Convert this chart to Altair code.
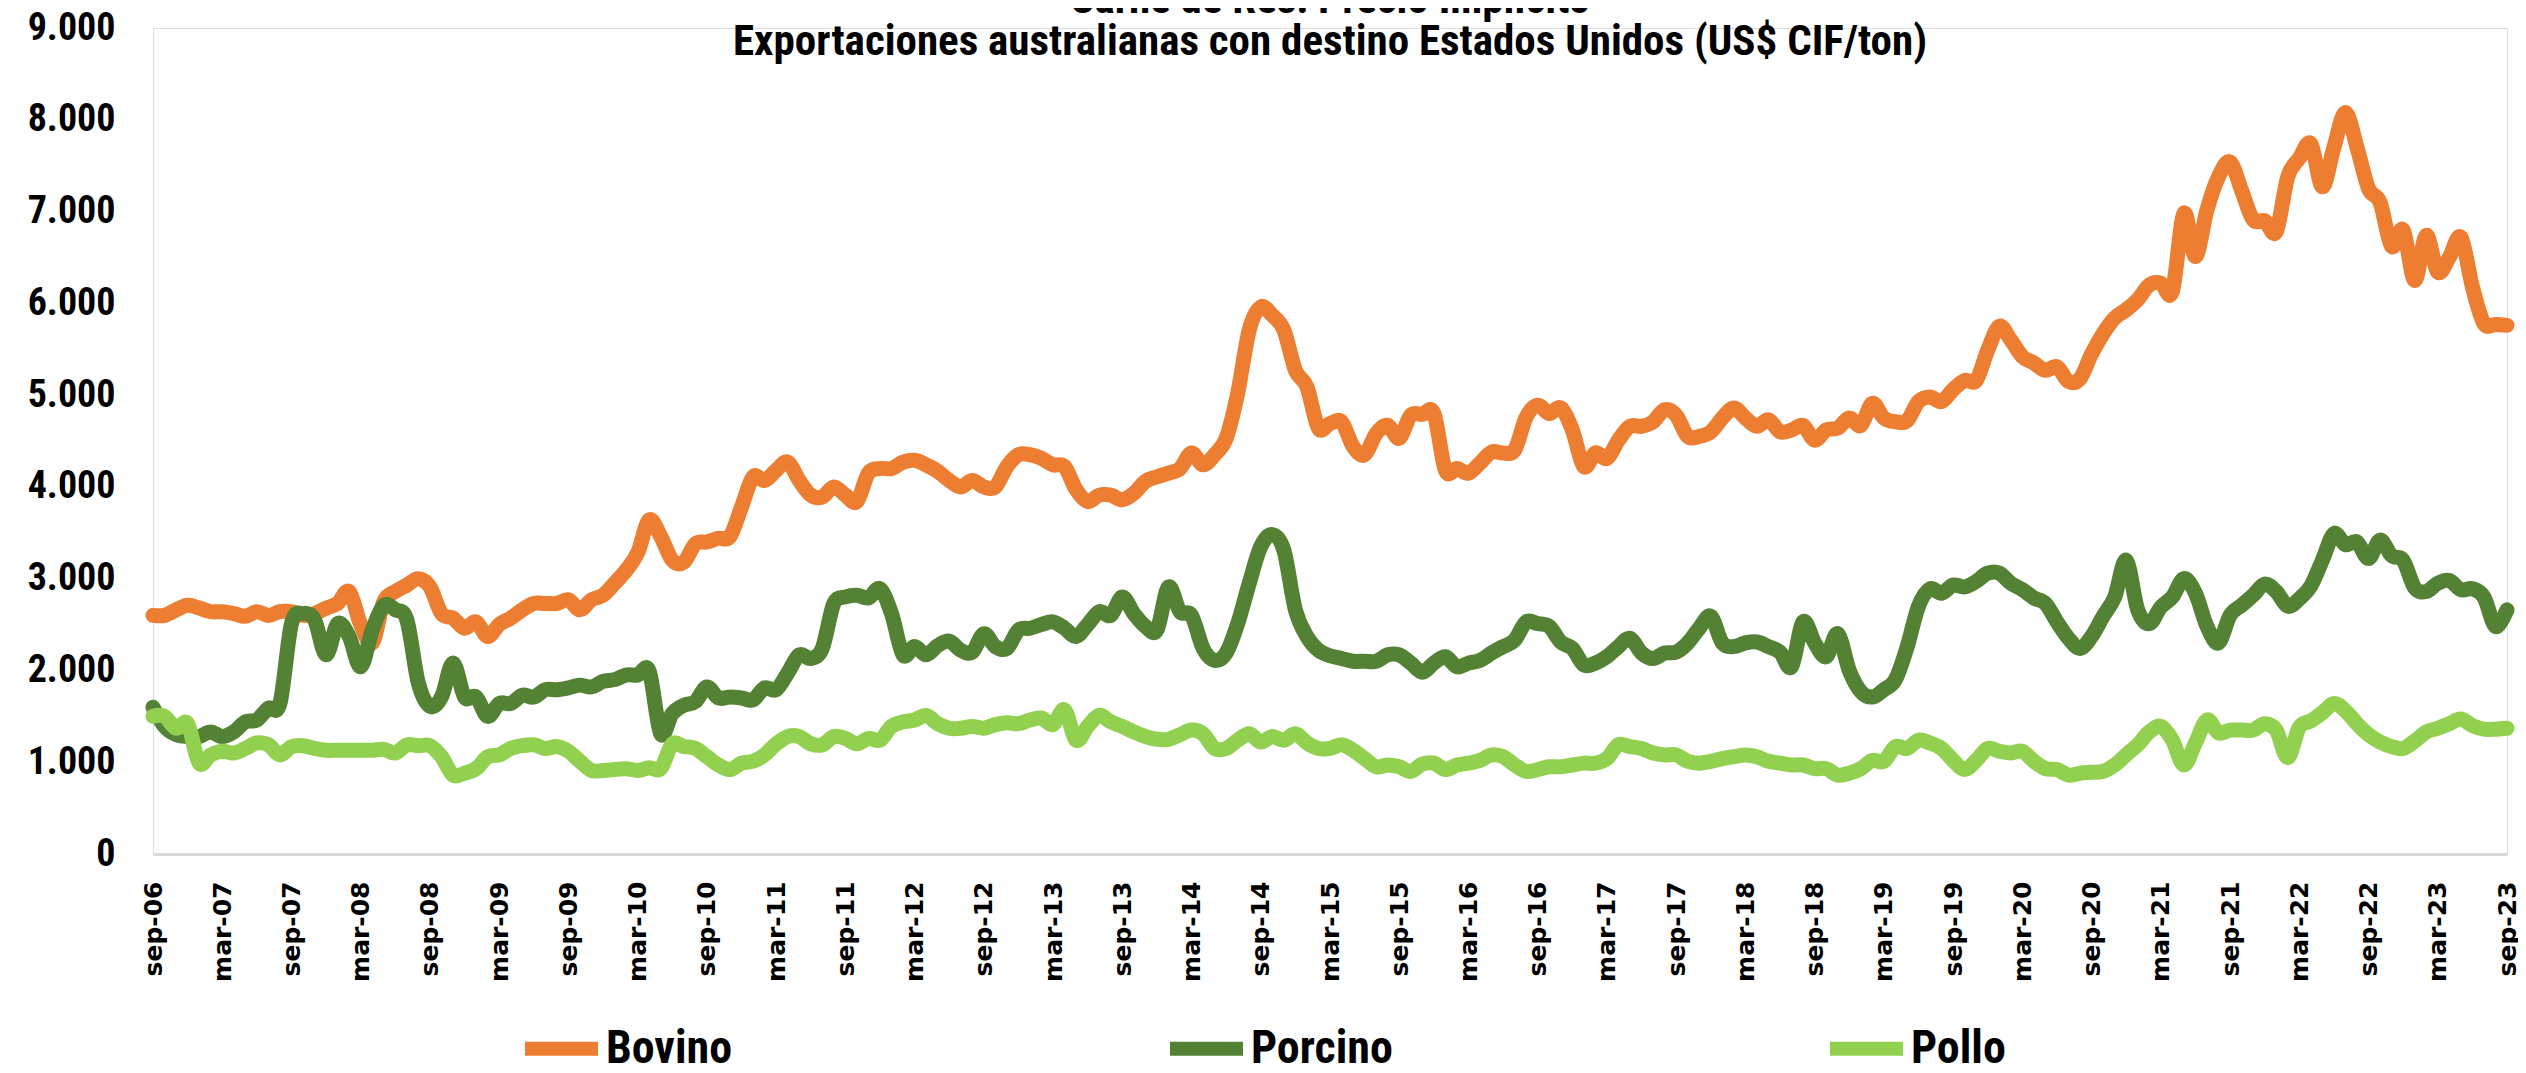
import altair as alt
import pandas as pd

# ---- categories: monthly labels sep-06 .. sep-23 ----
MESES_ABR = ["ene", "feb", "mar", "abr", "may", "jun", "jul", "ago", "sep", "oct", "nov", "dic"]
meses = []
_y, _m = 2006, 8
for _k in range(205):
    meses.append(f"{MESES_ABR[_m]}-{_y % 100:02d}")
    _m += 1
    if _m == 12:
        _m = 0
        _y += 1

etiquetas_x = meses[::6]
ticks_y = [0, 1000, 2000, 3000, 4000, 5000, 6000, 7000, 8000, 9000]

series = ["Bovino", "Porcino", "Pollo"]
colores = ["#ED7D31", "#548235", "#92D050"]

# ---- values (US$ CIF/ton) ----
bovino = [
    2600, 2600, 2660, 2710, 2680, 2640, 2640, 2620, 2590, 2640,
    2600, 2640, 2640, 2600, 2620, 2680, 2730, 2860, 2500, 2300,
    2750, 2860, 2930, 3000, 2910, 2620, 2570, 2460, 2530, 2370,
    2500, 2570, 2660, 2730, 2730, 2730, 2770, 2660, 2770, 2820,
    2950, 3090, 3280, 3640, 3460, 3200, 3180, 3380, 3400, 3440,
    3460, 3780, 4110, 4070, 4180, 4270, 4070, 3910, 3890, 4000,
    3910, 3840, 4150, 4200, 4200, 4270, 4290, 4240, 4170, 4070,
    4000, 4070, 4000, 4000, 4220, 4350, 4350, 4310, 4240, 4220,
    3970, 3840, 3910, 3910, 3860, 3930, 4060, 4110, 4150, 4200,
    4370, 4240, 4350, 4530, 5020, 5710, 5960, 5870, 5710, 5270,
    5090, 4640, 4690, 4710, 4440, 4350, 4580, 4670, 4530, 4780,
    4790, 4800, 4180, 4200, 4150, 4260, 4380, 4370, 4400, 4760,
    4890, 4800, 4860, 4620, 4220, 4370, 4310, 4510, 4660, 4660,
    4710, 4840, 4780, 4550, 4550, 4600, 4750, 4860, 4750, 4660,
    4730, 4600, 4620, 4670, 4510, 4620, 4640, 4750, 4670, 4910,
    4750, 4710, 4720, 4930, 4980, 4930, 5060, 5160, 5160, 5490,
    5750, 5600, 5420, 5350, 5270, 5310, 5150, 5180, 5450, 5670,
    5840, 5930, 6040, 6200, 6220, 6130, 6980, 6510, 7020, 7380,
    7540, 7230, 6910, 6900, 6780, 7380, 7580, 7740, 7270, 7700,
    8080, 7700, 7250, 7100, 6620, 6800, 6250, 6740, 6340, 6500,
    6720, 6180, 5780, 5770, 5760,
]

porcino = [
    1600, 1390, 1300, 1280, 1280, 1330, 1280, 1330, 1440, 1460,
    1590, 1640, 2510, 2620, 2550, 2170, 2510, 2370, 2040, 2440,
    2710, 2660, 2550, 1860, 1610, 1710, 2080, 1710, 1710, 1500,
    1640, 1640, 1730, 1710, 1790, 1790, 1810, 1840, 1820, 1880,
    1900, 1950, 1950, 1990, 1310, 1530, 1620, 1660, 1820, 1700,
    1710, 1700, 1680, 1810, 1790, 1970, 2170, 2130, 2240, 2730,
    2800, 2820, 2790, 2890, 2620, 2170, 2260, 2170, 2270, 2320,
    2220, 2200, 2400, 2260, 2240, 2440, 2460, 2500, 2530, 2460,
    2370, 2500, 2640, 2600, 2800, 2620, 2480, 2440, 2910, 2640,
    2600, 2240, 2110, 2190, 2510, 2950, 3350, 3480, 3310, 2660,
    2370, 2220, 2160, 2130, 2100, 2100, 2100, 2170, 2170, 2080,
    1980, 2080, 2150, 2040, 2080, 2110, 2190, 2260, 2330, 2530,
    2510, 2480, 2310, 2240, 2060, 2080, 2150, 2260, 2350, 2190,
    2130, 2190, 2200, 2300, 2460, 2590, 2300, 2260, 2300, 2310,
    2260, 2200, 2040, 2530, 2300, 2150, 2400, 2000, 1770, 1710,
    1790, 1900, 2250, 2700, 2890, 2840, 2930, 2910, 2970, 3060,
    3060, 2950, 2880, 2790, 2730, 2530, 2350, 2240, 2370, 2590,
    2800, 3200, 2660, 2510, 2690, 2800, 3000, 2840, 2480, 2300,
    2600, 2710, 2820, 2940, 2860, 2700, 2780, 2920, 3200, 3490,
    3370, 3400, 3220, 3420, 3250, 3200, 2900, 2860, 2950, 2980,
    2880, 2890, 2800, 2480, 2660,
]

pollo = [
    1500, 1500, 1370, 1420, 990, 1080, 1120, 1100, 1150, 1210,
    1190, 1080, 1170, 1180, 1150, 1130, 1130, 1130, 1130, 1130,
    1140, 1100, 1190, 1180, 1180, 1060, 860, 880, 930, 1060,
    1080, 1150, 1180, 1190, 1150, 1170, 1120, 1010, 910, 910,
    920, 930, 910, 940, 930, 1200, 1170, 1150, 1060, 970,
    920, 990, 1010, 1080, 1200, 1280, 1280, 1200, 1190, 1280,
    1260, 1200, 1260, 1240, 1390, 1440, 1460, 1510, 1420, 1370,
    1370, 1390, 1370, 1410, 1430, 1420, 1460, 1480, 1410, 1570,
    1240, 1390, 1510, 1440, 1390, 1330, 1280, 1250, 1250, 1300,
    1350, 1310, 1150, 1150, 1240, 1310, 1220, 1280, 1240, 1310,
    1210, 1150, 1150, 1190, 1130, 1040, 950, 970, 950, 900,
    980, 990, 920, 970, 990, 1020, 1080, 1060, 970, 900,
    920, 950, 950, 970, 990, 990, 1040, 1190, 1170, 1150,
    1100, 1080, 1080, 1010, 990, 1010, 1040, 1060, 1080, 1060,
    1010, 990, 970, 970, 930, 930, 860, 880, 930, 1020,
    1010, 1170, 1150, 1240, 1210, 1150, 1020, 920, 1020, 1150,
    1120, 1100, 1120, 1010, 930, 920, 860, 880, 890, 900,
    970, 1080, 1190, 1330, 1390, 1240, 970, 1210, 1460, 1320,
    1350, 1350, 1350, 1420, 1350, 1050, 1380, 1450, 1540, 1640,
    1560, 1420, 1300, 1220, 1170, 1150, 1230, 1330, 1370, 1420,
    1470, 1400, 1360, 1360, 1370,
]

rows = []
for orden, (nombre, vals) in enumerate(zip(series, [bovino, porcino, pollo])):
    for mes, v in zip(meses, vals):
        rows.append({"mes": mes, "serie": nombre, "valor": v, "orden": orden})
df = pd.DataFrame(rows)

NARROW = "Liberation Sans Narrow, Arial Narrow, Roboto Condensed, sans-serif"

chart = alt.Chart(df).mark_line(
    strokeWidth=15, interpolate="cardinal", strokeCap="round", strokeJoin="round"
).encode(
    x=alt.X(
        "mes:O",
        sort=meses,
        scale=alt.Scale(type="point", padding=0),
        axis=alt.Axis(
            title=None, values=etiquetas_x, labelAngle=270,
            labelFont="DejaVu Sans", labelFontSize=25, labelFontWeight="bold",
            labelColor="black", labelPadding=27, ticks=False,
            domainColor="#D9D9D9", domainWidth=3, grid=False, labelOverlap=False,
        ),
    ),
    y=alt.Y(
        "valor:Q",
        scale=alt.Scale(domain=[0, 9000], nice=False),
        axis=alt.Axis(
            title=None, values=ticks_y,
            labelExpr="replace(format(datum.value, ','), ',', '.')",
            labelFont=NARROW, labelFontSize=38, labelFontWeight="bold",
            labelColor="black", labelPadding=38, ticks=False, domain=False, grid=False,
        ),
    ),
    color=alt.Color(
        "serie:N",
        sort=series,
        scale=alt.Scale(domain=series, range=colores),
        legend=alt.Legend(
            title=None, orient="none", legendX=365, legendY=977,
            direction="horizontal", symbolType="stroke", symbolStrokeWidth=14,
            symbolSize=5329, labelFont=NARROW, labelFontSize=46,
            labelFontWeight="bold", labelColor="black", labelOffset=1,
            columnPadding=409, gridAlign="each",
        ),
    ),
    detail="orden:N",
).properties(
    width=2354,
    height=826,
    autosize=alt.AutoSizeParams(type="none"),
    padding={"left": 145, "top": 20, "right": 11, "bottom": 211},
    title=alt.TitleParams(
        text=["Carne de Res: Precio Implícito",
              "Exportaciones australianas con destino Estados Unidos (US$ CIF/ton)"],
        anchor="middle", frame="group", font=NARROW, fontSize=43,
        fontWeight="bold", color="black", lineHeight=42, offset=-98,
        baseline="bottom",
    ),
).configure_view(stroke=None).configure(background="white")

chart.save("out.html", embed_options={"renderer": "svg", "actions": False})
